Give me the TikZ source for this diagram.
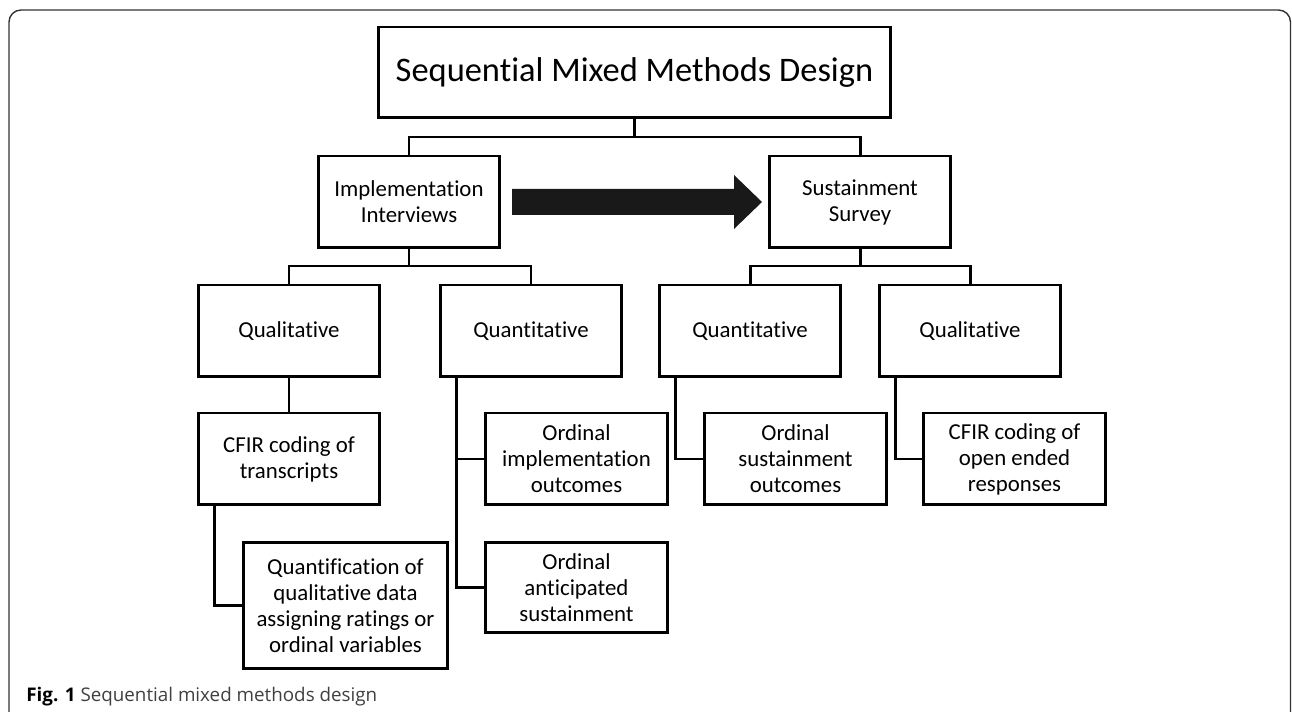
\documentclass[tikz,border=0pt]{standalone}
\usepackage{fontspec}
\setmainfont{Carlito}[Ligatures=CommonOff]
\newfontfamily\capfont{Open Sans}
\usetikzlibrary{positioning}
\tikzset{
	box/.style={draw, line width=1.7pt, align=center, inner sep=2pt, minimum width=3.64cm, minimum height=1.84cm, font=\fontsize{13}{14.8}\selectfont},
	link/.style={line width=1.7pt},
}
\begin{document}
\begin{tikzpicture}[x=0.02cm, y=-0.02cm]
	\useasboundingbox (0,0) rectangle (1292,712);
	% frame
	\draw[line width=0.8pt, black!80, rounded corners=0.24cm] (9,740) -- (9,10) -- (1290.5,10) -- (1290.5,740);
	\node[box, minimum width=10.26cm, minimum height=1.82cm, font=\fontsize{19.6}{22}\selectfont] (title) at (634.5,72.5) {Sequential Mixed Methods Design};
	\node[box] (impl) at (409,202) {Implementation\\Interviews};
	\node[box] (sust) at (860,202) {Sustainment\\Survey};
	\node[box] (qual1) at (289,331) {Qualitative};
	\node[box] (quant1) at (531,331) {Quantitative};
	\node[box] (quant2) at (750,331) {Quantitative};
	\node[box] (qual2) at (970,331) {Qualitative};
	\node[box] (cfir1) at (289,459) {CFIR coding of\\transcripts};
	\node[box, minimum width=4.1cm, minimum height=2.54cm] (quantif) at (345.5,605.5) {Quantification of\\qualitative data\\assigning ratings or\\ordinal variables};
	\node[box] (ordimpl) at (576.5,459) {Ordinal\\implementation\\outcomes};
	\node[box, minimum height=1.82cm] (ordant) at (576.5,587.5) {Ordinal\\anticipated\\sustainment};
	\node[box] (ordsust) at (795.5,459) {Ordinal\\sustainment\\outcomes};
	\node[box] (cfir2) at (1014.5,459) {CFIR coding of\\open ended\\responses};
	% tree links
	\coordinate (tj) at (634.5,137);
	\coordinate (ij) at (409,266);
	\coordinate (sj) at (860,266);
	\draw[link] (title.south) -- (tj);
	\draw[link] (impl.north) |- (tj) -| (sust.north);
	\draw[link] (impl.south) -- (ij);
	\draw[link] (qual1.north) |- (ij) -| (quant1.north);
	\draw[link] (sust.south) -- (sj);
	\draw[link] (quant2.north) |- (sj) -| (qual2.north);
	\draw[link] (qual1.south) -- (cfir1.north);
	% side links
	\coordinate (c1) at ([xshift=0.36cm]cfir1.south west);
	\coordinate (q1) at ([xshift=0.36cm]quant1.south west);
	\coordinate (q2) at ([xshift=0.36cm]quant2.south west);
	\coordinate (l2) at ([xshift=0.36cm]qual2.south west);
	\draw[link] (c1) |- (quantif.west);
	\draw[link] (q1) |- (ordant.west);
	\draw[link] (q1 |- ordimpl.west) -- (ordimpl.west);
	\draw[link] (q2) |- (ordsust.west);
	\draw[link] (l2) |- (cfir2.west);
	% big arrow
	\coordinate (arrS) at (512,202);
	\coordinate (arrE) at (762,202);
	\fill[black!90] (arrS) ++(0,-13) -- ++(222,0) -- ++(0,-14) -- (arrE) -- ++(-28,27) -- ++(0,-14) -- ++(-222,0) -- cycle;
	% caption
	\node[anchor=base west, inner sep=0pt, font=\capfont\fontsize{10.7}{12}\selectfont] (cap) at (26,702) {\textbf{Fig. 1} \textcolor{black!75}{Sequential mixed methods design}};
\end{tikzpicture}
\end{document}
